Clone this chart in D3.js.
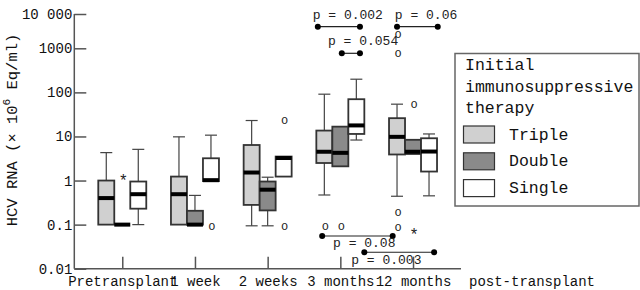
<!DOCTYPE html>
<html>
<head>
<meta charset="utf-8">
<script src="https://cdn.jsdelivr.net/npm/d3@7"></script>
<style>
  body { margin: 0; background: #fff; }
  svg { display: block; }
  svg text { font-family: "Liberation Mono", "DejaVu Sans Mono", monospace; }
</style>
</head>
<body>
<svg id="chart" width="640" height="290"></svg>
<script>
// time points and treatment groups
const categories = ["Pretransplant", "1 week", "2 weeks", "3 months", "12 months"]
const groups = ["Triple", "Double", "Single"]
const groupFill = ["#d0d0d0", "#8a8a8a", "#ffffff"]

// [min, q1, median, q3, max] per time point
const tripleStats = [
    [0.1, 0.1, 0.4, 1.0, 4.3],
    [0.1, 0.1, 0.49, 1.23, 9.8],
    [0.094, 0.28, 1.52, 6.4, 23],
    [0.47, 2.5, 4.5, 13.6, 91],
    [0.44, 3.9, 9.8, 26, 54]
]
const doubleStats = [
    [0.1, 0.1, 0.1, 0.1, 0.1],
    [0.1, 0.1, 0.1, 0.206, 0.46],
    [0.094, 0.21, 0.62, 0.95, 1.19],
    [2.1, 2.1, 4.25, 16.7, 16.7],
    [4.0, 4.0, 4.5, 8.4, 8.4]
]
const singleStats = [
    [0.1, 0.23, 0.49, 0.95, 5.1],
    [0.97, 0.97, 1.02, 3.2, 10.7],
    [1.23, 1.23, 3.25, 3.5, 3.5],
    [8.3, 11.4, 17.8, 70, 199],
    [0.45, 1.6, 4.55, 9.1, 11.4]
]

// outliers: [time point, group, value, symbol]
const outliers = [
    ["Pretransplant", "Double", 1.3, "*"],
    ["1 week", "Single", 0.09, "o"],
    ["2 weeks", "Single", 23.5, "o"],
    ["2 weeks", "Single", 0.09, "o"],
    ["3 months", "Triple", 0.09, "o"],
    ["3 months", "Double", 0.09, "o"],
    ["12 months", "Triple", 2500, "o"],
    ["12 months", "Triple", 770, "o"],
    ["12 months", "Triple", 0.19, "o"],
    ["12 months", "Triple", 0.088, "o"],
    ["12 months", "Double", 54, "o"],
    ["12 months", "Double", 0.076, "*"]
]

// p-value brackets, ends given in time point index units
const pLabels = ["p = 0.002", "p = 0.06", "p = 0.054", "p = 0.08", "p = 0.003"]
const pFrom = [2.69, 3.78, 3.02, 2.75, 3.33]
const pTo = [3.27, 4.34, 3.27, 3.72, 4.29]
const pLevel = [4270, 4270, 770, 0.0552, 0.0236]
const pTextX = [2.62, 3.75, 2.83, 2.9, 3.15]
const pTextAbove = [true, true, true, false, false]

const yTicks = [0.01, 0.1, 1, 10, 100, 1000, 10000]
const yTickLabels = ["0.01", "0.1", "1", "10", "100", "1000", "10 000"]

const svg = d3.select("#chart")
const axisColor = "#555"

// scales (top decade is squeezed in the original)
const xScale = d3.scalePoint()
    .domain(categories)
    .range([74.3, 461])
    .padding(0.66)
const gScale = d3.scaleBand()
    .domain(groups)
    .range([-24, 24])
const yScale = d3.scaleLog()
    .domain([0.01, 1000, 10000])
    .range([268.7, 48.3, 14])
const xIdx = d3.scaleLinear()
    .domain([0, categories.length - 1])
    .range([xScale(categories[0]), xScale(categories[categories.length - 1])])

// axes
const yAxis = svg.append("g")
    .attr("transform", "translate(74.3,0)")
    .call(d3.axisLeft(yScale)
        .tickValues(yTicks)
        .tickFormat((d, i) => yTickLabels[i])
        .tickSizeInner(-12)
        .tickSizeOuter(0)
        .tickPadding(2))
    .attr("font-family", null)
    .attr("font-size", 14)
yAxis.selectAll("text").attr("fill", "#111")

const xAxis = svg.append("g")
    .attr("transform", "translate(0,268.7)")
    .call(d3.axisBottom(xScale)
        .tickSizeInner(-12)
        .tickSizeOuter(0)
        .tickPadding(7))
    .attr("font-family", null)
    .attr("font-size", 14)
xAxis.selectAll("text").attr("fill", "#111")

svg.selectAll(".domain, .tick line")
    .attr("stroke", axisColor)
    .attr("stroke-width", 1.5)
yAxis.select(".domain").attr("d", "M0,268.7V14")
xAxis.select(".domain").attr("d", "M74.3,0H461")

svg.append("text")
    .attr("x", 469)
    .attr("y", 285.5)
    .attr("font-size", 14)
    .attr("fill", "#111")
    .text("post-transplant")

// y axis title
const yTitle = svg.append("text")
    .attr("transform", "translate(17,130) rotate(-90)")
    .attr("text-anchor", "middle")
    .attr("font-size", 15.5)
    .attr("fill", "#111")
yTitle.append("tspan").text("HCV RNA (\u00d7 10")
yTitle.append("tspan").attr("font-size", 11).attr("dy", -7).text("6")
yTitle.append("tspan").attr("dy", 7).text(" Eq/ml)")

// boxes
const boxData = []
const allStats = [tripleStats, doubleStats, singleStats]
categories.forEach((c, ci) => {
    groups.forEach((g, gi) => {
        const s = allStats[gi][ci]
        boxData.push({ cat: c, group: g, fill: groupFill[gi], min: s[0], q1: s[1], med: s[2], q3: s[3], max: s[4] })
    })
})

const bw = gScale.bandwidth()
const boxes = svg.append("g").selectAll("g")
    .data(boxData)
    .enter()
    .append("g")
    .attr("transform", d => "translate(" + (xScale(d.cat) + gScale(d.group)) + ",0)")

// whiskers
boxes.filter(d => d.max > d.q3).append("line")
    .attr("x1", bw / 2).attr("x2", bw / 2)
    .attr("y1", d => yScale(d.q3)).attr("y2", d => yScale(d.max))
    .attr("stroke", "#444").attr("stroke-width", 1.2)
boxes.filter(d => d.max > d.q3).append("line")
    .attr("x1", bw / 2 - 6).attr("x2", bw / 2 + 6)
    .attr("y1", d => yScale(d.max)).attr("y2", d => yScale(d.max))
    .attr("stroke", "#444").attr("stroke-width", 1.2)
boxes.filter(d => d.min < d.q1).append("line")
    .attr("x1", bw / 2).attr("x2", bw / 2)
    .attr("y1", d => yScale(d.q1)).attr("y2", d => yScale(d.min))
    .attr("stroke", "#444").attr("stroke-width", 1.2)
boxes.filter(d => d.min < d.q1).append("line")
    .attr("x1", bw / 2 - 6).attr("x2", bw / 2 + 6)
    .attr("y1", d => yScale(d.min)).attr("y2", d => yScale(d.min))
    .attr("stroke", "#444").attr("stroke-width", 1.2)

boxes.filter(d => d.q3 > d.q1).append("rect")
    .attr("x", 0)
    .attr("width", bw)
    .attr("y", d => yScale(d.q3))
    .attr("height", d => yScale(d.q1) - yScale(d.q3))
    .attr("fill", d => d.fill)
    .attr("stroke", "#333")
    .attr("stroke-width", 1.8)

boxes.append("line")
    .attr("x1", 0).attr("x2", bw)
    .attr("y1", d => yScale(d.med)).attr("y2", d => yScale(d.med))
    .attr("stroke", "#000")
    .attr("stroke-width", 4)

// outliers
svg.append("g").selectAll("text")
    .data(outliers)
    .enter()
    .append("text")
    .attr("x", d => xScale(d[0]) + gScale(d[1]) + bw / 2 + 1)
    .attr("y", d => yScale(d[2]))
    .attr("dy", d => d[3] == "*" ? "0.65em" : "0.3em")
    .attr("text-anchor", "middle")
    .attr("font-size", d => d[3] == "*" ? 16 : 12)
    .attr("fill", "#222")
    .text(d => d[3])

// p-value brackets
const pg = svg.append("g")
pLabels.forEach((lab, i) => {
    const y0 = yScale(pLevel[i])
    pg.append("line")
        .attr("x1", xIdx(pFrom[i])).attr("x2", xIdx(pTo[i]))
        .attr("y1", y0).attr("y2", y0)
        .attr("stroke", "#222").attr("stroke-width", 1.2)
    pg.selectAll(null)
        .data([pFrom[i], pTo[i]])
        .enter()
        .append("circle")
        .attr("cx", d => xIdx(d))
        .attr("cy", y0)
        .attr("r", 3)
        .attr("fill", "#000")
    pg.append("text")
        .attr("x", xIdx(pTextX[i]))
        .attr("y", pTextAbove[i] ? y0 - 8 : y0 + 11.5)
        .attr("font-size", 13)
        .attr("fill", "#222")
        .text(lab)
})

// legend
const legend = svg.append("g")
legend.append("rect")
    .attr("x", 455).attr("y", 53.5)
    .attr("width", 184).attr("height", 152.5)
    .attr("fill", "#fff")
    .attr("stroke", "#666")
    .attr("stroke-width", 1.5)
const titleLines = ["Initial", "immunosuppressive", "therapy"]
titleLines.forEach((t, i) => {
    legend.append("text")
        .attr("x", 465).attr("y", 70 + i * 21.5)
        .attr("font-size", 16.5)
        .attr("fill", "#111")
        .text(t)
})
groups.forEach((g, i) => {
    legend.append("rect")
        .attr("x", 463.5).attr("y", 126 + i * 26.8)
        .attr("width", 31).attr("height", 17)
        .attr("fill", groupFill[i])
        .attr("stroke", "#333")
        .attr("stroke-width", 1.2)
    legend.append("text")
        .attr("x", 509).attr("y", 139.5 + i * 26.8)
        .attr("font-size", 16.5)
        .attr("fill", "#111")
        .text(g)
})
</script>
</body>
</html>
